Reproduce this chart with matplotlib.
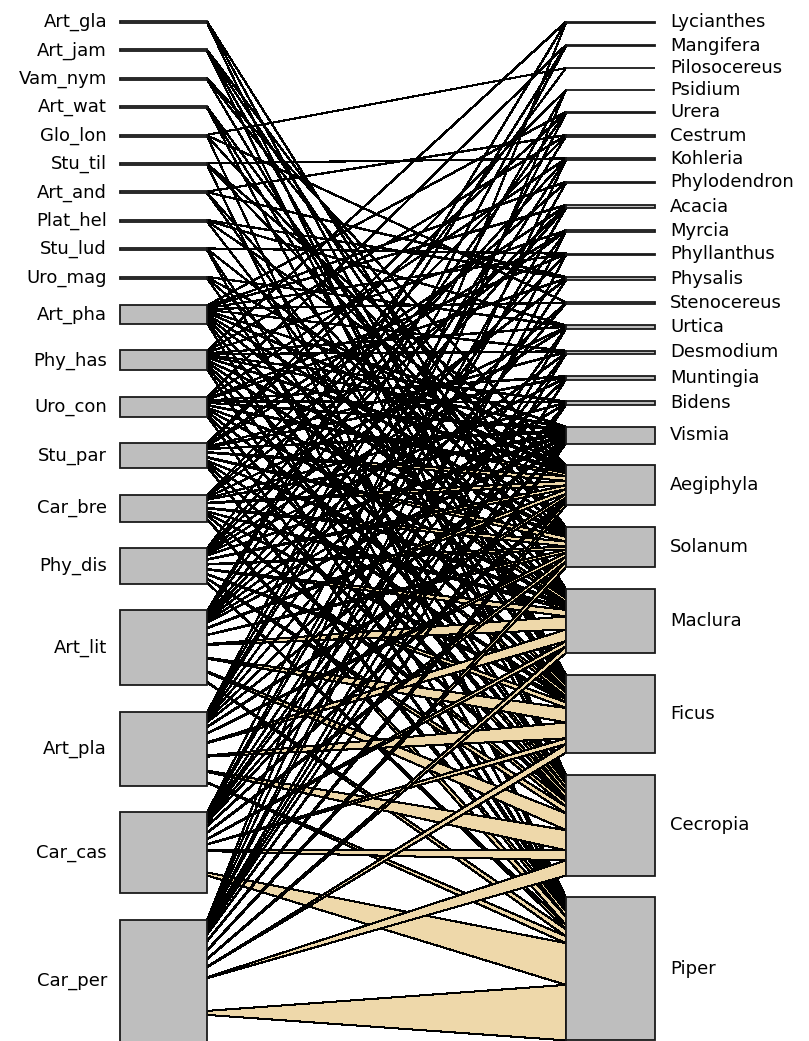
# bipartite bat-plant web, drawn like bipartite::plotweb
import matplotlib
matplotlib.use('Agg')
import matplotlib.pyplot as plt
from matplotlib.patches import Rectangle, Polygon
import numpy as np

# bats (left level) and their box sizes
bats = ['Art_gla', 'Art_jam', 'Vam_nym', 'Art_wat', 'Glo_lon', 'Stu_til', 'Art_and',
        'Plat_hel', 'Stu_lud', 'Uro_mag', 'Art_pha', 'Phy_has', 'Uro_con', 'Stu_par',
        'Car_bre', 'Phy_dis', 'Art_lit', 'Art_pla', 'Car_cas', 'Car_per']
bat_size = [2, 2, 2, 2, 2, 2, 2, 2, 2, 2, 19, 20, 20, 25, 27, 36, 75, 74, 81, 122]

# plants (right level) and their box sizes
plants = ['Lycianthes', 'Mangifera', 'Pilosocereus', 'Psidium', 'Urera', 'Cestrum',
          'Kohleria', 'Phylodendron', 'Acacia', 'Myrcia', 'Phyllanthus', 'Physalis',
          'Stenocereus', 'Urtica', 'Desmodium', 'Muntingia', 'Bidens', 'Vismia',
          'Aegiphyla', 'Solanum', 'Maclura', 'Ficus', 'Cecropia', 'Piper']
plant_size = [1.5, 1.5, 0, 0, 1.5, 1.5, 1.5, 1.5, 3.5, 1.5, 1.5, 3.5,
              1.5, 3.5, 3.5, 3.5, 3.5, 17, 40, 40, 64, 78, 101, 143]

# interaction counts, rows = bats, cols = plants (order as above)
web = np.array([
    # Ly Ma Pi Ps Ur Ce Ko Ph Ac My Py Pa St Ut De Mu Bi Vi Ae So Mc Fi Cc Pp
    [0, 0, 0, 0, 0, 0, 0, 0, 0, 0, 0, 0, 0, 0, 0, 0, 0, 0, 0, 0, 1, 1, 1, 0],    # Art_gla
    [0, 0, 0, 0, 0, 0, 0, 0, 0, 0, 0, 0, 0, 0, 0, 0, 0, 0, 0, 1, 1, 2, 1, 0],    # Art_jam
    [0, 0, 0, 0, 0, 0, 0, 0, 0, 0, 0, 0, 0, 0, 0, 0, 0, 0, 1, 1, 0, 1, 0, 0],    # Vam_nym
    [0, 0, 0, 0, 0, 0, 0, 0, 0, 0, 0, 0, 0, 0, 0, 0, 0, 0, 0, 0, 1, 1, 1, 0],    # Art_wat
    [0, 0, 1, 0, 0, 0, 0, 0, 0, 0, 0, 0, 1, 0, 0, 0, 0, 0, 0, 1, 0, 0, 0, 1],    # Glo_lon
    [0, 0, 0, 0, 0, 0, 1, 0, 0, 0, 0, 0, 0, 0, 0, 0, 0, 0, 1, 1, 0, 0, 0, 1],    # Stu_til
    [0, 0, 0, 0, 0, 1, 0, 0, 0, 0, 0, 1, 0, 0, 0, 0, 0, 0, 0, 0, 1, 1, 0, 0],    # Art_and
    [0, 0, 0, 0, 0, 0, 0, 0, 0, 0, 0, 1, 0, 1, 0, 0, 0, 0, 1, 0, 0, 1, 0, 0],    # Plat_hel
    [0, 0, 0, 0, 0, 0, 0, 0, 0, 0, 1, 0, 0, 0, 0, 0, 0, 0, 0, 1, 0, 0, 1, 1],    # Stu_lud
    [0, 0, 0, 0, 0, 0, 0, 0, 0, 0, 0, 0, 0, 1, 0, 0, 0, 0, 1, 0, 1, 0, 1, 0],    # Uro_mag
    [0, 0, 0, 0, 1, 0, 0, 1, 1, 0, 1, 0, 1, 0, 1, 0, 0, 1, 3, 2, 2, 3, 3, 2],    # Art_pha
    [1, 0, 0, 0, 0, 1, 0, 0, 0, 1, 0, 0, 0, 1, 1, 0, 1, 1, 3, 3, 3, 2, 3, 3],    # Phy_has
    [0, 1, 0, 0, 0, 0, 1, 0, 0, 0, 1, 1, 0, 0, 0, 1, 1, 2, 4, 2, 2, 3, 3, 2],    # Uro_con
    [0, 0, 0, 1, 1, 0, 0, 0, 1, 1, 0, 0, 0, 0, 1, 1, 0, 2, 6, 6, 2, 2, 2, 4],    # Stu_par
    [0, 0, 0, 0, 0, 1, 0, 1, 0, 1, 0, 0, 0, 1, 0, 0, 1, 2, 6, 6, 2, 2, 3, 6],    # Car_bre
    [0, 0, 1, 0, 0, 0, 1, 0, 1, 0, 0, 1, 0, 1, 0, 1, 0, 2, 5, 4, 5, 4, 4, 3],    # Phy_dis
    [1, 1, 0, 0, 1, 0, 0, 0, 1, 0, 1, 0, 1, 0, 1, 0, 1, 2, 6, 4, 10, 10, 10, 5], # Art_lit
    [0, 1, 0, 1, 0, 1, 1, 0, 0, 1, 0, 0, 1, 0, 0, 1, 0, 2, 5, 5, 9, 11, 12, 5],  # Art_pla
    [0, 0, 0, 0, 1, 0, 0, 1, 1, 0, 0, 1, 0, 1, 1, 0, 1, 2, 4, 6, 4, 4, 6, 30],   # Car_cas
    [1, 0, 0, 1, 0, 0, 1, 0, 0, 1, 1, 0, 0, 1, 1, 1, 1, 3, 6, 7, 5, 6, 9, 40],   # Car_per
])

# layout (pixel units)
low_x0, low_x1 = 120, 207
high_x0, high_x1 = 566, 655
gap_low, gap_high = 26.4, 21.8
start_low, start_high = 21, 21.5
k_low = 0.1  # width of a link at the bat end, per interaction

bat_size = np.array(bat_size, dtype=float)
plant_size = np.array(plant_size, dtype=float)
low_top = start_low + np.concatenate([[0], np.cumsum(bat_size[:-1] + gap_low)])
high_top = start_high + np.concatenate([[0], np.cumsum(plant_size[:-1] + gap_high)])

fig = plt.figure(figsize=(8.09, 10.41), dpi=100)
ax = fig.add_axes([0, 0, 1, 1])
ax.set_xlim(0, 809)
ax.set_ylim(1041, 0)
ax.axis('off')

rowsum = web.sum(axis=1)
colsum = web.sum(axis=0)
row_cum = np.zeros(len(bats))
col_cum = np.zeros(len(plants))

# links first, boxes on top
for i in range(len(bats)):
    for j in range(len(plants)):
        w = web[i, j]
        if w == 0:
            continue
        yc = low_top[i] + bat_size[i] * (row_cum[i] + w / 2) / rowsum[i]
        row_cum[i] += w
        yl0, yl1 = yc - w * k_low / 2, yc + w * k_low / 2
        yr0 = high_top[j] + plant_size[j] * col_cum[j] / colsum[j]
        col_cum[j] += w
        yr1 = high_top[j] + plant_size[j] * col_cum[j] / colsum[j]
        ax.add_patch(Polygon([(low_x1, yl0), (high_x0, yr0), (high_x0, yr1), (low_x1, yl1)],
                             closed=True, facecolor='#eed8aa', edgecolor='black',
                             lw=0.75, antialiased=False, zorder=1))

for i, name in enumerate(bats):
    ax.add_patch(Rectangle((low_x0, low_top[i]), low_x1 - low_x0, bat_size[i],
                           facecolor='#bebebe', edgecolor='#1a1a1a', lw=1.3, zorder=2))
    ax.text(107, low_top[i] + bat_size[i] / 2, name, ha='right', va='center',
            fontsize=13, family='DejaVu Sans')

for j, name in enumerate(plants):
    ax.add_patch(Rectangle((high_x0, high_top[j]), high_x1 - high_x0, plant_size[j],
                           facecolor='#bebebe', edgecolor='#1a1a1a', lw=1.3, zorder=2))
    ax.text(670, high_top[j] + plant_size[j] / 2, name, ha='left', va='center',
            fontsize=13, family='DejaVu Sans')

fig.savefig('out.png', dpi=100)
